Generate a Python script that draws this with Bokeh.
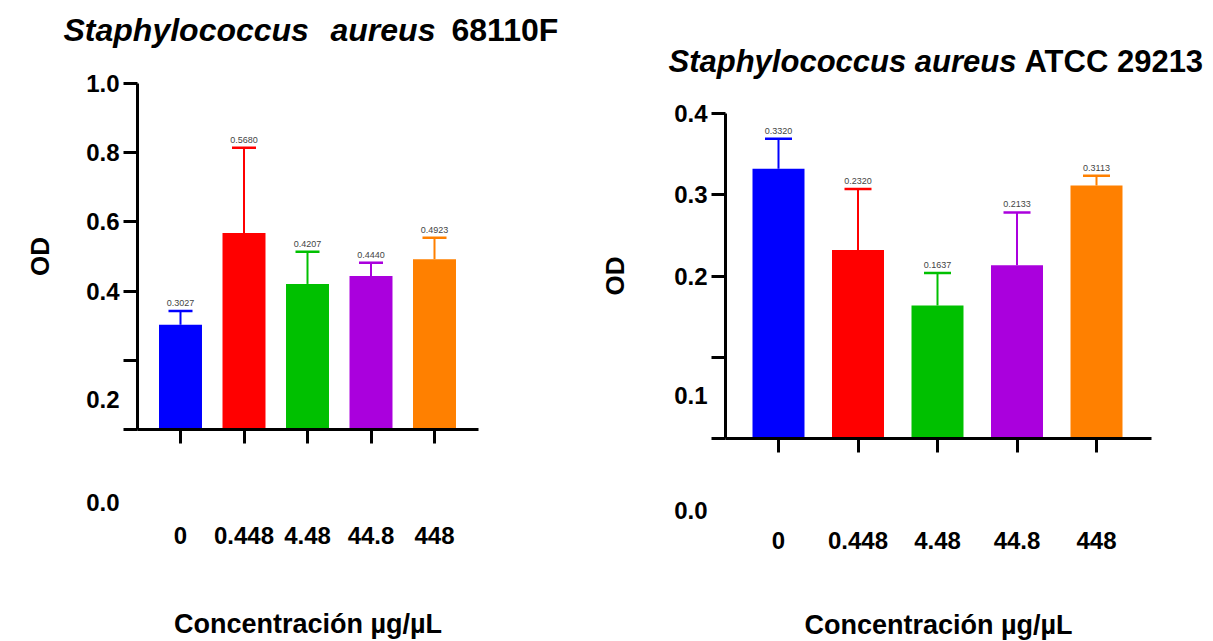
from bokeh.plotting import figure
from bokeh.layouts import row
from bokeh.models import (Range1d, FixedTicker, Label, LabelSet, ColumnDataSource,
                          PrintfTickFormatter)
from bokeh.core.properties import value
from bokeh.embed import file_html
from bokeh.resources import INLINE

# ---------------- data ----------------
concentrations = ["0", "0.448", "4.48", "44.8", "448"]
bar_colors = ["#0000FF", "#FF0000", "#00C000", "#AA00DD", "#FF8000"]

od_68110F = [0.3027, 0.5680, 0.4207, 0.4440, 0.4923]
sd_68110F = [0.040, 0.246, 0.093, 0.038, 0.062]

od_29213 = [0.3320, 0.2320, 0.1637, 0.2133, 0.3113]
sd_29213 = [0.037, 0.075, 0.040, 0.065, 0.012]

yticks_68110F = [0.4, 0.6, 0.8, 1.0]
yminor_68110F = [0.0, 0.2]
yticks_29213 = [0.2, 0.3, 0.4]
yminor_29213 = [0.0, 0.1]

FONT = "Liberation Sans"
H = 641


def panel(title_parts, means, sds, cfg):
    n = len(means)
    xs = list(range(n))
    src = ColumnDataSource(dict(
        x=xs, top=means, hi=[m + s for m, s in zip(means, sds)],
        color=bar_colors, txt=["%.4f" % m for m in means]))

    W = cfg["width"]
    ox = cfg["xoff"]
    x0_px = cfg["x0px"] - ox
    step = cfg["step"]
    y0_px = cfg["y0px"]
    ppu = (cfg["y0px"] - cfg["ytop_px"]) / cfg["ymax"]

    def dx(px):
        return (px - ox - x0_px) / step

    def dy(py):
        return (y0_px - py) / ppu

    p = figure(width=W, height=H,
               x_range=Range1d(dx(ox), dx(ox + W)),
               y_range=Range1d(dy(H), dy(0)),
               min_border=0, min_border_left=0, min_border_right=0,
               min_border_top=0, min_border_bottom=0,
               output_backend="svg", toolbar_location=None,
               outline_line_color=None, background_fill_color="white",
               border_fill_color="white")
    p.grid.visible = False

    p.vbar(x="x", top="top", bottom=0, width=cfg["bw"], fill_color="color",
           line_color=None, source=src)
    p.segment(x0="x", y0="top", x1="x", y1="hi", line_color="color",
              line_width=2, source=src)
    p.dash(x="x", y="hi", size=cfg["cap"], line_color="color",
           line_width=2.5, source=src)
    p.add_layout(LabelSet(x="x", y="hi", text="txt", source=src,
                          text_align="center", text_baseline="bottom",
                          y_offset=5, text_font=value(FONT),
                          text_font_size=value("9px"),
                          text_color=value("#444444")))

    y_axis_x = dx(cfg["yaxis_px"])
    x_axis_end = dx(cfg["xaxis_end_px"])

    # y axis
    ya = p.yaxis[0]
    ya.fixed_location = y_axis_x
    ya.bounds = (0, cfg["ymax"])
    ya.ticker = FixedTicker(ticks=cfg["yticks"], minor_ticks=cfg["yminor"])
    ya.formatter = PrintfTickFormatter(format="%.1f")
    ya.axis_line_width = 3
    ya.major_tick_line_width = 3
    ya.minor_tick_line_width = 3
    ya.major_tick_out = 14
    ya.major_tick_in = 0
    ya.minor_tick_out = 14
    ya.minor_tick_in = 0
    ya.major_label_standoff = 4
    ya.major_label_text_font = FONT
    ya.major_label_text_font_style = "bold"
    ya.major_label_text_font_size = "24px"
    ya.major_label_text_color = "black"
    ya.axis_label = "OD"
    ya.axis_label_text_font = FONT
    ya.axis_label_text_font_style = "bold"
    ya.axis_label_text_font_size = "26px"
    ya.axis_label_text_color = "black"
    ya.axis_label_standoff = cfg["ylab_so"]

    # x axis
    xa = p.xaxis[0]
    xa.fixed_location = 0
    xa.bounds = (y_axis_x, x_axis_end)
    xa.ticker = FixedTicker(ticks=xs, minor_ticks=[])
    xa.major_label_overrides = {i: c for i, c in enumerate(concentrations)}
    xa.axis_line_width = 3
    xa.major_tick_line_width = 3
    xa.major_tick_out = 14
    xa.major_tick_in = 0
    xa.minor_tick_out = 0
    xa.minor_tick_in = 0
    xa.major_label_standoff = cfg["xlab_so"]
    xa.major_label_text_font = FONT
    xa.major_label_text_font_style = "bold"
    xa.major_label_text_font_size = "24px"
    xa.major_label_text_color = "black"
    xa.axis_label = "Concentración µg/µL"
    xa.axis_label_text_font = FONT
    xa.axis_label_text_font_style = "bold"
    xa.axis_label_text_font_size = "27px"
    xa.axis_label_text_color = "black"
    xa.axis_label_standoff = cfg["xaxl_so"]

    for txt, py in cfg["loose_labels"]:
        p.add_layout(Label(x=dx(cfg["loose_x"]), y=dy(py), text=txt,
                           text_align="right", text_baseline="middle",
                           text_font=FONT, text_font_style="bold",
                           text_font_size="24px", text_color="black"))

    for (txt, style), tx in zip(title_parts, cfg["title_x"]):
        p.add_layout(Label(x=dx(tx), y=dy(cfg["ty"]), text=txt,
                           text_align="left", text_baseline="alphabetic",
                           text_font=FONT, text_font_style=style,
                           text_font_size=cfg["tfs"], text_color="black"))
    return p


cfg_left = dict(width=600, xoff=0, x0px=180, step=63.5,
                y0px=429, ytop_px=83, ymax=1.0,
                yaxis_px=137, xaxis_end_px=478, bw=0.677, cap=24,
                yticks=yticks_68110F, yminor=yminor_68110F,
                ylab_so=28, xlab_so=83, xaxl_so=62,
                loose_labels=[("0.2", 399), ("0.0", 502)], loose_x=119,
                title_x=[63, 330, 451], ty=29, tfs="32px")
cfg_right = dict(width=613, xoff=600, x0px=778, step=79.5,
                 y0px=438, ytop_px=113, ymax=0.4,
                 yaxis_px=725, xaxis_end_px=1151, bw=0.654, cap=27,
                 yticks=yticks_29213, yminor=yminor_29213,
                 ylab_so=41, xlab_so=79, xaxl_so=58,
                 loose_labels=[("0.1", 395), ("0.0", 510)], loose_x=707,
                 title_x=[668, 1024], ty=61, tfs="31px")

p1 = panel([("Staphylococcus", "bold italic"), ("aureus", "bold italic"),
            ("68110F", "bold")], od_68110F, sd_68110F, cfg_left)
p2 = panel([("Staphylococcus aureus", "bold italic"), ("ATCC 29213", "bold")],
           od_29213, sd_29213, cfg_right)

layout = row(p1, p2)
open("out.html", "w").write(file_html(layout, INLINE))
